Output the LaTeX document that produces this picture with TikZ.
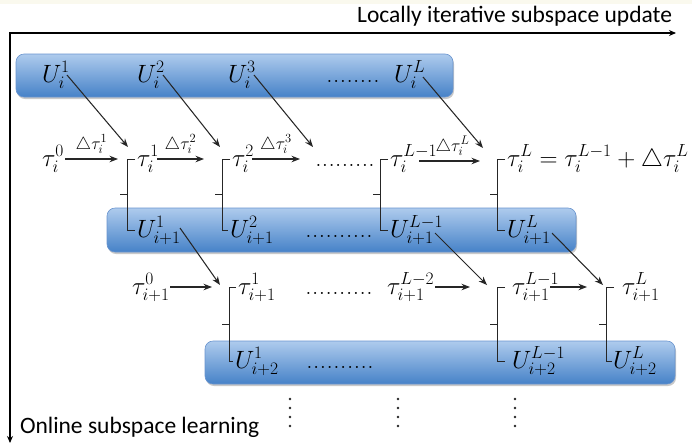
\RequirePackage{fix-cm}
\documentclass[tikz,border=0pt]{standalone}
\usepackage{fontspec}
\newfontfamily\calib{Carlito}
\usetikzlibrary{arrows.meta,calc,shadows}
\definecolor{boxtop}{RGB}{174,203,237}
\definecolor{boxbot}{RGB}{70,130,200}
\definecolor{boxedge}{RGB}{105,148,206}
\definecolor{cream}{RGB}{250,249,238}
\newcommand{\rowdots}[1]{{\fontsize{25}{25}\selectfont\hbox to #1{\xleaders\hbox to 6.4pt{\hss.\hss}\hfill}}}
\newcommand{\mybrack}[5]{%
  \draw[brk] ($(#1.base west)+(#4,-7)$) -- ($(#1.base west)+(#3,-7)$) coordinate (bt) |- ($(#2.base west)+(#5,-7)$) coordinate (bb);
  \path ($(bt)!0.5!(bb)$) coordinate (bm);
  \draw[brk] (bt |- bm) -- ++(-7,0);}
\begin{document}
\begin{tikzpicture}[x=1pt,y=-1pt,
  every node/.style={inner sep=0pt,outer sep=0pt,anchor=base west,font=\fontsize{25}{30}\selectfont},
  bluebox/.style={rounded corners=8pt,top color=boxtop,bottom color=boxbot,draw=boxedge,line width=0.6pt,
    drop shadow={shadow xshift=1pt,shadow yshift=-2pt,opacity=0.3,fill=black!70}},
  arr/.style={-{Stealth[length=8.5pt,width=6.5pt]},line width=1.05pt,draw=black!85},
  axisline/.style={{Stealth[length=7pt,width=6pt]}-{Stealth[length=7pt,width=6pt]},line width=1.2pt},
  brk/.style={line width=1pt,draw=black!85},
  lab/.style={anchor=base,yshift=10pt},
  vdot/.style={fill=black!85},
  sans/.style={font=\calib\fontsize{23.5}{28}\selectfont}]
\useasboundingbox (0,0) rectangle (692,445);
\fill[cream] (0,0) rectangle (692,4);
% boxes
\path[bluebox] (16,54) rectangle (453,97);
\path[bluebox] (107,208) rectangle (576,252);
\path[bluebox] (205,341) rectangle (675,384);
% axes
\coordinate (O) at (10,33);
\coordinate (xe) at (676,33);
\coordinate (ye) at (10,443);
\draw[axisline] (ye) -- (O) -- (xe);
\node[sans,anchor=base east] (xlab) at (672,22) {Locally iterative subspace update};
\node[sans] (ylab) at (20,433) {Online subspace learning};
% row 1 U
\node (ui1) at (42,82) {$U_i^1$};
\node (ui2) at (137,82) {$U_i^2$};
\node (ui3) at (228,82) {$U_i^3$};
\node (uid) at (326,82) {\rowdots{54pt}};
\node (uiL) at (394,82) {$U_i^L$};
% row 1 tau
\node (ti0) at (42,166) {$\tau_i^0$};
\node (ti1) at (137,166) {$\tau_i^1$};
\node (ti2) at (232,166) {$\tau_i^2$};
\node (tid) at (315,166) {\rowdots{60pt}};
\node (tiLm) at (390,166) {$\tau_i^{L-1}$};
\node (tiL) at (507,166) {$\tau_i^L = \tau_i^{L-1} + \triangle\tau_i^L$};
% row 2 U
\node (vi1) at (137,237) {$U_{i+1}^1$};
\node (vi2) at (230,237) {$U_{i+1}^2$};
\node (vid) at (305,237) {\rowdots{68pt}};
\node (viLm) at (390,237) {$U_{i+1}^{L-1}$};
\node (viL) at (507,237) {$U_{i+1}^L$};
% row 2 tau
\node (si0) at (132,294) {$\tau_{i+1}^0$};
\node (si1) at (238,294) {$\tau_{i+1}^1$};
\node (sid) at (305,294) {\rowdots{68pt}};
\node (siLmm) at (387,294) {$\tau_{i+1}^{L-2}$};
\node (siLm) at (512,294) {$\tau_{i+1}^{L-1}$};
\node (siL) at (622,294) {$\tau_{i+1}^L$};
% row 3 U
\node (wi1) at (235,368) {$U_{i+2}^1$};
\node (wid) at (306,368) {\rowdots{68pt}};
\node (wiLm) at (512,368) {$U_{i+2}^{L-1}$};
\node (wiL) at (613,368) {$U_{i+2}^L$};
% vertical dots
\foreach \x in {290,398,515}{
  \foreach \y in {399,408,417,426}{
    \fill[vdot] (\x,\y) circle[radius=1.35pt];
  }
}
% horizontal arrows row 1
\draw[arr] ($(ti0.base west)+(23,-7)$) -- node[lab]{$\scriptstyle\triangle\tau_i^1$} ($(ti1.base west)+(-19,-7)$);
\draw[arr] ($(ti1.base west)+(20,-7)$) -- node[lab]{$\scriptstyle\triangle\tau_i^2$} ($(ti2.base west)+(-28,-7)$);
\draw[arr] ($(ti2.base west)+(20,-7)$) -- node[lab]{$\scriptstyle\triangle\tau_i^3$} ($(tid.base west)+(-15,-7)$);
\draw[arr] ($(tiLm.base west)+(29,-5)$) -- node[lab,xshift=3pt]{$\scriptstyle\triangle\tau_i^L$} ($(tiL.base west)+(-27,-5)$);
% horizontal arrows row 2
\draw[arr] ($(si0.base west)+(38,-7)$) -- ($(si1.base west)+(-26,-7)$);
\draw[arr] ($(siLmm.base west)+(48,-7)$) -- ($(siLm.base west)+(-42,-7)$);
\draw[arr] ($(siLm.base west)+(38,-7)$) -- ($(siL.base west)+(-35,-7)$);
% diagonal arrows row 1
\draw[arr] ($(ui1.base west)+(25,-7)$) -- ($(ti1.base west)+(-9,-19)$);
\draw[arr] ($(ui2.base west)+(26,-7)$) -- ($(ti2.base west)+(-12,-19)$);
\draw[arr] ($(ui3.base west)+(26,-7)$) -- ($(tid.base west)+(-2,-19)$);
\draw[arr] ($(uiL.base west)+(29,-5)$) -- ($(tiL.base west)+(-24,-18)$);
% diagonal arrows row 2
\draw[arr] ($(vi1.base west)+(43,-9)$) -- ($(si1.base west)+(-18,-9)$);
\draw[arr] ($(viLm.base west)+(45,-4)$) -- ($(siLm.base west)+(-25,-9)$);
\draw[arr] ($(viL.base west)+(45,-4)$) -- ($(siL.base west)+(-19,-9)$);
% brackets
\mybrack{ti1}{vi1}{-10}{-2}{-2}
\mybrack{ti2}{vi2}{-10}{-2}{-2}
\mybrack{tiLm}{viLm}{-10}{-2}{-2}
\mybrack{tiL}{viL}{-10}{-2}{-2}
\mybrack{si1}{wi1}{-9}{-2}{-2}
\mybrack{siLm}{wiLm}{-15}{-7}{-7}
\mybrack{siL}{wiL}{-16}{-8}{-1}
\end{tikzpicture}
\end{document}
